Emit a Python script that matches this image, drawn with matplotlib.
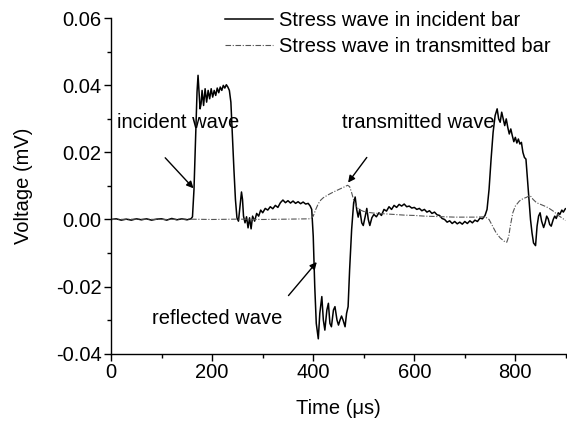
import matplotlib
matplotlib.use("Agg")
import matplotlib.pyplot as plt
from matplotlib.ticker import MultipleLocator, FormatStrFormatter

plt.rcParams['font.family'] = ['Liberation Sans', 'DejaVu Sans']

# Incident bar signal (time in us, voltage in mV)
inc_t = [0, 10, 20, 30, 40, 50, 60, 70, 80, 90, 100, 110, 120, 130, 140, 150, 158,
         161, 164, 167, 170, 172, 174, 176, 178, 180, 183, 186, 189, 192, 195, 198,
         201, 204, 207, 210, 213, 216, 219, 222, 225, 228, 231, 234, 237, 240, 243,
         246, 249, 252, 255, 258, 260, 262, 265, 268, 271, 274, 277, 280, 284, 288,
         292, 296, 300, 305, 310, 315, 320, 325, 330, 335, 340, 345, 350, 355, 360,
         365, 370, 375, 380, 385, 390, 394, 397, 400, 403, 406, 410, 413, 417, 420,
         423, 427, 430, 433, 436, 440, 443, 447, 450, 453, 456, 459, 463, 466, 469,
         472, 476, 480, 483, 486, 489, 492, 496, 499, 503, 506, 509, 512, 516, 520,
         525, 530, 535, 540, 545, 550, 555, 560, 565, 570, 575, 580, 585, 590, 595,
         600, 605, 610, 615, 620, 625, 630, 635, 640, 645, 650, 655, 660, 665, 670,
         675, 680, 685, 690, 695, 700, 705, 710, 715, 720, 725, 730, 735, 740, 744,
         748, 752, 756, 760, 764, 767, 770, 773, 776, 779, 782, 785, 788, 791, 794,
         797, 800, 803, 806, 809, 812, 815, 818, 821, 824, 827, 830, 833, 836, 840,
         843, 846, 849, 852, 856, 859, 862, 865, 868, 871, 875, 878, 881, 885, 888,
         892, 895, 899]
inc_v = [0.0000, 0.0002, -0.0002, 0.0001, -0.0002, 0.0002, -0.0001, 0.0002, -0.0002,
         0.0001, 0.0002, -0.0002, 0.0003, -0.0001, 0.0002, -0.0001, 0.0002,
         0.0008, 0.0090, 0.0230, 0.0380, 0.0430, 0.0380, 0.0330, 0.0345, 0.0385,
         0.0340, 0.0390, 0.0350, 0.0385, 0.0360, 0.0390,
         0.0365, 0.0385, 0.0370, 0.0392, 0.0378, 0.0395, 0.0385, 0.0400, 0.0392,
         0.0402, 0.0395, 0.0385, 0.0350, 0.0250, 0.0150,
         0.0060, 0.0005, -0.0005, 0.0040, 0.0082, 0.0060, 0.0010, -0.0010, 0.0008,
         -0.0025, 0.0005, -0.0028, 0.0010, -0.0005, 0.0018,
         0.0010, 0.0028, 0.0020, 0.0033, 0.0028, 0.0038, 0.0032, 0.0042, 0.0036,
         0.0050, 0.0058, 0.0050, 0.0056, 0.0049, 0.0055,
         0.0048, 0.0053, 0.0047, 0.0052, 0.0046, 0.0048, 0.0040, 0.0030, -0.0050,
         -0.0200, -0.0310, -0.0356, -0.0280, -0.0230, -0.0300,
         -0.0330, -0.0270, -0.0250, -0.0310, -0.0320, -0.0270, -0.0260, -0.0300,
         -0.0315, -0.0300, -0.0288, -0.0300, -0.0320, -0.0280, -0.0260,
         -0.0150, -0.0030, 0.0050, 0.0067, 0.0030, 0.0007, 0.0030, -0.0010, -0.0018,
         0.0010, 0.0033, 0.0000, -0.0018, 0.0005, 0.0015,
         0.0008, 0.0020, 0.0012, 0.0030, 0.0025, 0.0038, 0.0030, 0.0042, 0.0036,
         0.0045, 0.0040, 0.0046, 0.0038, 0.0040, 0.0034,
         0.0036, 0.0030, 0.0033, 0.0026, 0.0030, 0.0022, 0.0026, 0.0018, 0.0022,
         0.0014, 0.0012, 0.0003, 0.0000, -0.0008, -0.0004,
         -0.0012, -0.0006, -0.0013, -0.0008, -0.0014, -0.0006, -0.0012, -0.0004,
         -0.0010, -0.0002, -0.0006, 0.0004, 0.0002, 0.0012, 0.0030,
         0.0090, 0.0180, 0.0260, 0.0310, 0.0330, 0.0300, 0.0290, 0.0320, 0.0300,
         0.0280, 0.0300, 0.0275, 0.0255, 0.0270, 0.0250,
         0.0232, 0.0245, 0.0228, 0.0240, 0.0225, 0.0230, 0.0200, 0.0185, 0.0180,
         0.0120, 0.0060, 0.0000, -0.0040, -0.0070, -0.0078,
         -0.0020, 0.0010, 0.0020, -0.0005, -0.0024, -0.0010, 0.0010, 0.0002, -0.0015,
         -0.0020, 0.0000, 0.0010, 0.0003, 0.0020, 0.0015,
         0.0028, 0.0022, 0.0032]

# Transmitted bar signal
tr_t = [0, 50, 100, 150, 200, 250, 300, 350, 395, 400, 405, 410, 415, 420, 430, 440,
        450, 460, 468, 472, 476, 480, 485, 490, 500, 510, 520, 540, 560, 580, 600,
        620, 640, 660, 680, 700, 720, 740, 748, 755, 762, 770, 778, 783, 787, 790,
        795, 800, 808, 815, 822, 829, 835, 842, 850, 858, 865, 875, 885, 892, 899]
tr_v = [0.0000, 0.0001, 0.0000, 0.0001, 0.0000, 0.0001, 0.0000, 0.0001, 0.0002,
        0.0010, 0.0030, 0.0047, 0.0058, 0.0065, 0.0074, 0.0082,
        0.0089, 0.0096, 0.0102, 0.0098, 0.0080, 0.0058, 0.0040, 0.0030, 0.0024,
        0.0021, 0.0019, 0.0017, 0.0015, 0.0013, 0.0012,
        0.0010, 0.0009, 0.0008, 0.0007, 0.0007, 0.0007, 0.0008, 0.0000, -0.0020,
        -0.0040, -0.0055, -0.0065, -0.0068, -0.0050, -0.0020,
        0.0020, 0.0040, 0.0055, 0.0062, 0.0066, 0.0072, 0.0060, 0.0050, 0.0045,
        0.0040, 0.0035, 0.0025, 0.0012, 0.0005, -0.0003]

series_labels = ["Stress wave in incident bar", "Stress wave in transmitted bar"]
x_label = "Time (\u03bcs)"
y_label = "Voltage (mV)"

fs = 14.5

fig = plt.figure(figsize=(5.67, 4.26), dpi=100)
ax = fig.add_axes([0.196, 0.170, 0.802, 0.787])

ax.plot(inc_t, inc_v, color='black', lw=1.1, label=series_labels[0])
ax.plot(tr_t, tr_v, color='#555555', lw=0.8, ls=(0, (5, 1.5, 1, 1.5)),
        label=series_labels[1])

ax.set_xlim(0, 900)
ax.set_ylim(-0.04, 0.06)
ax.xaxis.set_major_locator(MultipleLocator(200))
ax.xaxis.set_minor_locator(MultipleLocator(100))
ax.yaxis.set_major_locator(MultipleLocator(0.02))
ax.yaxis.set_minor_locator(MultipleLocator(0.01))
ax.yaxis.set_major_formatter(FormatStrFormatter('%.2f'))

for s in ['top', 'right']:
    ax.spines[s].set_visible(False)
for s in ['left', 'bottom']:
    ax.spines[s].set_linewidth(1.0)

ax.tick_params(which='major', direction='out', length=5, width=1.0,
               labelsize=fs, pad=2)
ax.tick_params(which='minor', direction='out', length=3, width=1.0)

ax.set_xlabel(x_label, fontsize=fs, labelpad=12)
ax.set_ylabel(y_label, fontsize=fs, labelpad=16)

ax.text(11, 0.029, "incident wave", fontsize=fs, va='center', ha='left')
ax.annotate("", xy=(163, 0.0093), xytext=(107, 0.0184),
            arrowprops=dict(arrowstyle='-|>', color='black', lw=1.0,
                            mutation_scale=10, shrinkA=0, shrinkB=0))
ax.text(456, 0.029, "transmitted wave", fontsize=fs, va='center', ha='left')
ax.annotate("", xy=(469, 0.011), xytext=(506, 0.0185),
            arrowprops=dict(arrowstyle='-|>', color='black', lw=1.0,
                            mutation_scale=10, shrinkA=0, shrinkB=0))
ax.text(80, -0.0296, "reflected wave", fontsize=fs, va='center', ha='left')
ax.annotate("", xy=(407, -0.0127), xytext=(351, -0.0227),
            arrowprops=dict(arrowstyle='-|>', color='black', lw=1.0,
                            mutation_scale=10, shrinkA=0, shrinkB=0))

ax.legend(loc='upper right', frameon=False, fontsize=fs, handlelength=2.4,
          handletextpad=0.3, labelspacing=0.35, borderaxespad=0.0,
          bbox_to_anchor=(0.985, 1.045))

fig.savefig("out.png", dpi=100)
